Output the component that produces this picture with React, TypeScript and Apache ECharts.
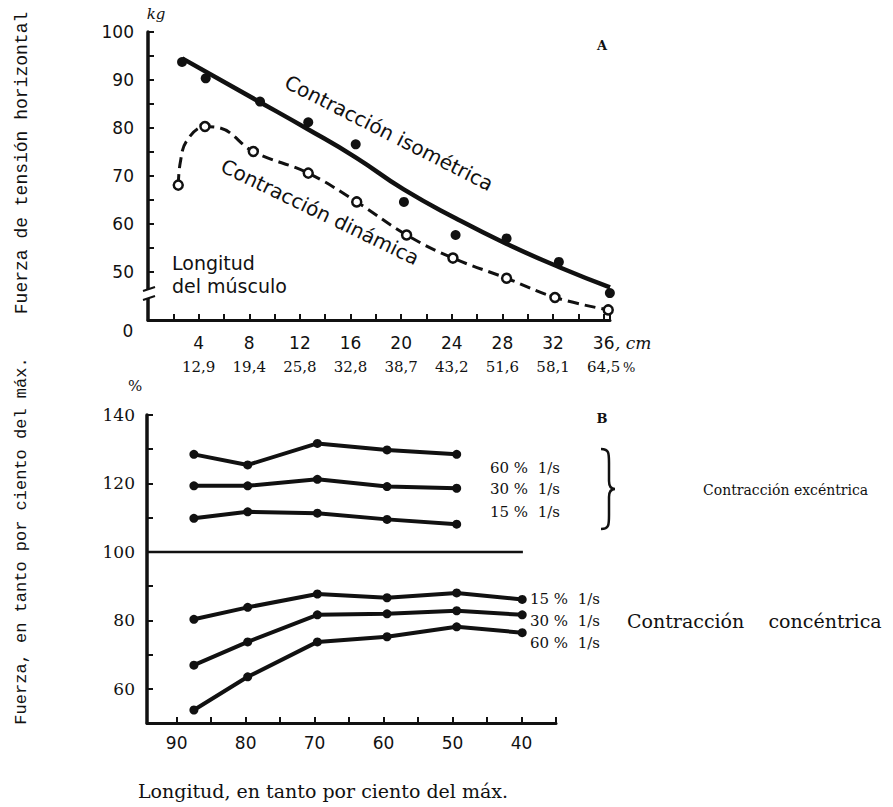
import React, { useEffect, useRef } from "react";
import * as echarts from "echarts";

// ---------- Panel A data (length of muscle, cm / force, kg) ----------
const cmTickValues = [4, 8, 12, 16, 20, 24, 28, 32, 36];
const pctTickLabels = ["12,9", "19,4", "25,8", "32,8", "38,7", "43,2", "51,6", "58,1", "64,5"];
const kgTickValues = [50, 60, 70, 80, 90, 100];

// Contracción isométrica – measured points
const isoX = [2.69, 4.56, 8.85, 12.66, 16.41, 20.22, 24.3, 28.33, 32.46, 36.49];
const isoY = [93.75, 90.35, 85.5, 81.2, 76.6, 64.6, 57.7, 57.0, 52.1, 45.6];
// Contracción isométrica – fitted curve
const isoFitX = [2.7, 8.5, 12.6, 16.4, 20.2, 24.3, 28.3, 32.5, 36.5];
const isoFitY = [94.5, 85.9, 79.8, 73.9, 67.2, 61.2, 55.9, 51.0, 46.8];

// Contracción dinámica – measured points
const dynX = [2.39, 4.5, 8.32, 12.66, 16.49, 20.43, 24.09, 28.33, 32.15, 36.36];
const dynY = [68.1, 80.3, 75.1, 70.6, 64.6, 57.7, 52.9, 48.7, 44.7, 42.1];
// Contracción dinámica – fitted (dashed) curve
const dynFitX = [2.39, 2.55, 3.05, 4.5, 5.7, 8.32, 12.66, 16.49, 20.43, 24.09, 28.33, 32.15, 36.36];
const dynFitY = [68.1, 72.8, 77.3, 80.3, 80.0, 75.1, 70.6, 64.6, 57.7, 52.9, 48.7, 44.7, 42.1];

// ---------- Panel B data (length % of max / force % of max) ----------
const lenPctX = [87.5, 79.7, 69.6, 59.5, 49.4, 39.9];
const lenTickValues = [90, 80, 70, 60, 50, 40];
const forceTickValues = [140, 120, 100, 80, 60];

const exc60 = [128.5, 125.4, 131.7, 129.8, 128.5];
const exc30 = [119.3, 119.3, 121.2, 119.1, 118.6];
const exc15 = [109.8, 111.7, 111.3, 109.5, 108.1];
const conc15 = [80.3, 83.8, 87.7, 86.6, 88.0, 86.1];
const conc30 = [66.9, 73.7, 81.6, 81.9, 82.8, 81.6];
const conc60 = [53.8, 63.5, 73.7, 75.2, 78.1, 76.4];

const refLineX = [94.3, 39.8];
const refLineY = [100, 100];

const excLabels = ["60 %  1/s", "30 %  1/s", "15 %  1/s"];
const concLabels = ["15 %  1/s", "30 %  1/s", "60 %  1/s"];

const INK = "#111";
const zip = (xs: number[], ys: number[]) => xs.map((x, i) => [x, ys[i]]);

let braceRegistered = false;
function registerBrace() {
  if (braceRegistered) return;
  braceRegistered = true;
  echarts.graphic.registerShape(
    "brace",
    echarts.graphic.extendPath(
      "M0,0 C8,0 8,4 8,14 L8,32 C8,38 10,40 14,40 C10,40 8,42 8,48 L8,66 C8,76 8,80 0,80",
      {}
    )
  );
}

export default function App() {
  const ref = useRef<HTMLDivElement>(null);

  useEffect(() => {
    if (!ref.current) return;
    registerBrace();
    const chart = echarts.init(ref.current, undefined, { renderer: "svg" });

    const sans = "DejaVu Sans";
    const serif = "DejaVu Serif";
    const mono = "Liberation Mono";

    const txt = (
      x: number,
      y: number,
      text: string,
      fontSize: number,
      fontFamily: string,
      align: string = "left",
      extra: any = {}
    ) => ({
      type: "text",
      x,
      y,
      z: 50,
      ...extra,
      style: {
        text,
        fontSize,
        fontFamily,
        fill: INK,
        align,
        verticalAlign: "middle",
        ...(extra.style || {}),
      },
    });

    const bLine = (ys: number[]) => ({
      type: "line",
      xAxisIndex: 1,
      yAxisIndex: 1,
      data: zip(lenPctX.slice(0, ys.length), ys),
      symbol: "circle",
      symbolSize: 9,
      itemStyle: { color: INK, opacity: 1 },
      lineStyle: { color: INK, width: 4 },
      z: 5,
    });

    const option: any = {
      animation: false,
      backgroundColor: "#fff",
      grid: [
        { left: 148, top: 32, width: 462, height: 288 },
        { left: 147, top: 415, width: 409, height: 308 },
      ],
      xAxis: [
        {
          type: "value",
          gridIndex: 0,
          min: 0,
          max: 36.5,
          interval: 2,
          splitLine: { show: false },
          axisLine: { onZero: false, lineStyle: { color: INK, width: 3 } },
          axisTick: { inside: true, length: 6, lineStyle: { color: INK, width: 2 } },
          axisLabel: {
            margin: 11,
            color: INK,
            formatter: (v: number) => {
              const i = cmTickValues.indexOf(v);
              if (i < 0) return "";
              return `{a|${v}}\n{b|${pctTickLabels[i]}}`;
            },
            rich: {
              a: { fontSize: 17, fontFamily: sans, lineHeight: 24, color: INK },
              b: { fontSize: 15, fontFamily: serif, lineHeight: 24, color: INK },
            },
          },
        },
        {
          type: "value",
          gridIndex: 1,
          inverse: true,
          min: 35,
          max: 94.3,
          interval: 5,
          splitLine: { show: false },
          axisLine: { onZero: false, lineStyle: { color: INK, width: 3 } },
          axisTick: { inside: true, length: 6, lineStyle: { color: INK, width: 2 } },
          axisLabel: {
            margin: 11,
            color: INK,
            fontSize: 17,
            fontFamily: sans,
            formatter: (v: number) => (lenTickValues.indexOf(v) >= 0 ? String(v) : ""),
          },
        },
      ],
      yAxis: [
        {
          type: "value",
          gridIndex: 0,
          min: 40,
          max: 100,
          interval: 5,
          splitLine: { show: false },
          axisLine: { onZero: false, lineStyle: { color: INK, width: 3.5 } },
          axisTick: { inside: true, length: 6, lineStyle: { color: INK, width: 2 } },
          axisLabel: {
            margin: 14,
            color: INK,
            fontSize: 17,
            fontFamily: sans,
            formatter: (v: number) => (kgTickValues.indexOf(v) >= 0 ? String(v) : ""),
          },
        },
        {
          type: "value",
          gridIndex: 1,
          min: 50,
          max: 140,
          interval: 10,
          splitLine: { show: false },
          axisLine: { onZero: false, lineStyle: { color: INK, width: 3.5 } },
          axisTick: { inside: true, length: 6, lineStyle: { color: INK, width: 2 } },
          axisLabel: {
            margin: 12,
            color: INK,
            fontSize: 17,
            fontFamily: serif,
            formatter: (v: number) => (forceTickValues.indexOf(v) >= 0 ? String(v) : ""),
          },
        },
      ],
      series: [
        {
          type: "line",
          xAxisIndex: 0,
          yAxisIndex: 0,
          data: zip(isoFitX, isoFitY),
          smooth: 0.5,
          showSymbol: false,
          lineStyle: { color: INK, width: 4.5 },
          z: 3,
        },
        {
          type: "scatter",
          xAxisIndex: 0,
          yAxisIndex: 0,
          data: zip(isoX, isoY),
          symbol: "circle",
          symbolSize: 10,
          itemStyle: { color: INK, opacity: 1 },
          z: 4,
        },
        {
          type: "line",
          xAxisIndex: 0,
          yAxisIndex: 0,
          data: zip(dynFitX, dynFitY),
          smooth: 0.4,
          showSymbol: false,
          lineStyle: { color: INK, width: 3, type: [11, 6] },
          z: 3,
        },
        {
          type: "scatter",
          xAxisIndex: 0,
          yAxisIndex: 0,
          data: zip(dynX, dynY),
          symbol: "circle",
          symbolSize: 9,
          itemStyle: { color: "#fff", borderColor: INK, borderWidth: 2.5, opacity: 1 },
          z: 4,
        },
        {
          type: "line",
          xAxisIndex: 1,
          yAxisIndex: 1,
          data: zip(refLineX, refLineY),
          showSymbol: false,
          lineStyle: { color: INK, width: 2.5 },
          z: 3,
        },
        bLine(exc60),
        bLine(exc30),
        bLine(exc15),
        bLine(conc15),
        bLine(conc30),
        bLine(conc60),
      ],
      graphic: [
        // axis break on panel A
        { type: "rect", z: 60, shape: { x: 141, y: 289, width: 16, height: 9 }, style: { fill: "#fff" } },
        { type: "line", z: 61, shape: { x1: 143, y1: 291, x2: 155, y2: 287 }, style: { stroke: INK, lineWidth: 2 } },
        { type: "line", z: 61, shape: { x1: 143, y1: 300, x2: 155, y2: 296 }, style: { stroke: INK, lineWidth: 2 } },
        txt(128, 331, "0", 17, sans, "center"),
        txt(156, 14, "kg", 15, serif, "center", { style: { fontStyle: "italic" } }),
        txt(602, 45, "A", 13, serif, "center", { style: { fontWeight: "bold" } }),
        txt(389, 133, "Contracción isométrica", 20, sans, "center", { rotation: -0.47 }),
        txt(320, 212, "Contracción dinámica", 20, sans, "center", { rotation: -0.45 }),
        txt(172, 263, "Longitud", 19, sans),
        txt(172, 286, "del músculo", 19, sans),
        txt(615, 343, ", cm", 17, serif, "left", { style: { fontStyle: "italic" } }),
        txt(623, 367, "%", 13, serif),
        // panel B
        txt(135, 386, "%", 15, serif, "center"),
        txt(602, 418, "B", 13, serif, "center", { style: { fontWeight: "bold" } }),
        txt(490, 468, excLabels[0], 15, serif),
        txt(490, 489, excLabels[1], 15, serif),
        txt(490, 512, excLabels[2], 15, serif),
        {
          type: "brace",
          x: 601,
          y: 449,
          z: 50,
          style: { stroke: INK, fill: "none", lineWidth: 2.5 },
        },
        txt(703, 490, "Contracción excéntrica", 14, serif),
        txt(530, 599, concLabels[0], 15, serif),
        txt(530, 621, concLabels[1], 15, serif),
        txt(530, 643, concLabels[2], 15, serif),
        txt(627, 621, "Contracción    concéntrica", 19, serif),
        txt(323, 791, "Longitud, en tanto por ciento del máx.", 19, serif, "center"),
        // left vertical titles
        txt(22, 163, "Fuerza de tensión horizontal", 18, mono, "center", { rotation: Math.PI / 2 }),
        txt(21, 541, "Fuerza, en tanto por ciento del máx.", 17, mono, "center", { rotation: Math.PI / 2 }),
      ],
    };

    chart.setOption(option);
    return () => chart.dispose();
  }, []);

  return (
    <div
      ref={ref}
      style={{ position: "absolute", left: 0, top: 0, width: 893, height: 807 }}
    />
  );
}
